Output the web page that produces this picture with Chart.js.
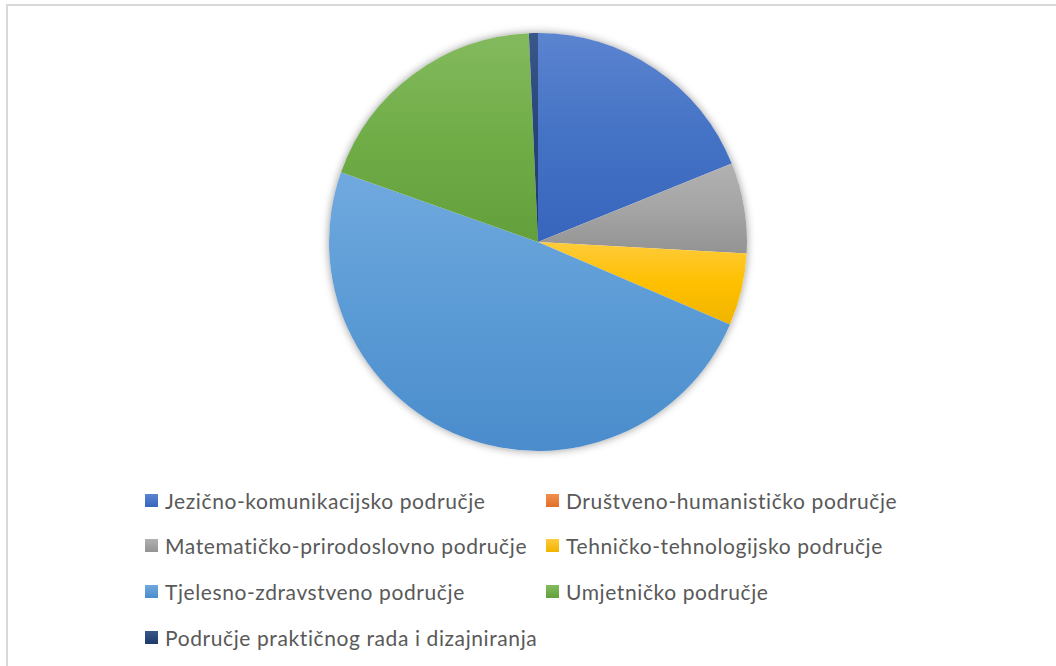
<!DOCTYPE html>
<html>
<head>
<meta charset="utf-8">
<script src="https://cdn.jsdelivr.net/npm/chart.js@4"></script>
<style>
  html, body { margin: 0; padding: 0; background: #fff; }
  body { width: 1056px; height: 666px; position: relative; overflow: hidden; }
  .frame {
    position: absolute; left: 6px; top: 4px; width: 1100px; height: 700px;
    border: 2px solid #d9d9d9; box-sizing: border-box;
  }
  .pie-box { position: absolute; left: 309px; top: 13px; width: 458px; height: 458px; }
  .legend-item {
    position: absolute; height: 24px; display: flex; align-items: center;
    font-family: Lato, sans-serif; font-size: 21px; color: #595959;
    letter-spacing: 0.6px; white-space: nowrap;
  }
  .legend-item span.box { width: 13px; height: 13px; margin-right: 7px; flex: none; }
</style>
</head>
<body>
<div class="frame"></div>
<div class="pie-box"><canvas id="pieChart"></canvas></div>
<div id="legend"></div>
<script>
const labels = [
  'Jezično-komunikacijsko područje',
  'Društveno-humanističko područje',
  'Matematičko-prirodoslovno područje',
  'Tehničko-tehnologijsko područje',
  'Tjelesno-zdravstveno područje',
  'Umjetničko područje',
  'Područje praktičnog rada i dizajniranja'
];
const values = [27, 0, 10, 8, 70, 27, 1];

const baseColors   = ['#4472C4', '#ED7D31', '#A5A5A5', '#FFC000', '#5B9BD5', '#70AD47', '#264478'];
const topColors    = ['#5b84d0', '#f28f4d', '#b1b1b1', '#ffcb3a', '#70a9df', '#83ba5e', '#3a5789'];
const bottomColors = ['#3765bd', '#e0702a', '#939393', '#f0b400', '#4a8ccc', '#63a03c', '#1e3a6c'];

// vertical gradient over each slice's own height
function sliceGradient(context) {
  const chart = context.chart;
  const area = chart.chartArea;
  const i = context.dataIndex;
  if (!area) return baseColors[i];
  const cx = (area.left + area.right) / 2;
  const cy = (area.top + area.bottom) / 2;
  const r = Math.min(area.width, area.height) / 2;
  const total = values.reduce((a, b) => a + b, 0);
  let start = -Math.PI / 2;
  for (let k = 0; k < i; k++) start += values[k] / total * 2 * Math.PI;
  const end = start + values[i] / total * 2 * Math.PI;
  const ys = [cy, cy + r * Math.sin(start), cy + r * Math.sin(end)];
  [-Math.PI / 2, Math.PI / 2, 3 * Math.PI / 2].forEach(a => {
    if (a >= start && a <= end) ys.push(cy + r * Math.sin(a));
  });
  const y0 = Math.min(...ys), y1 = Math.max(...ys);
  const g = chart.ctx.createLinearGradient(0, y0, 0, y1 > y0 ? y1 : y0 + 1);
  g.addColorStop(0, topColors[i]);
  g.addColorStop(0.5, baseColors[i]);
  g.addColorStop(1, bottomColors[i]);
  return g;
}

// soft shadow under the pie
const pieShadow = {
  id: 'pieShadow',
  beforeDatasetsDraw(chart) {
    const arc = chart.getDatasetMeta(0).data[0];
    if (!arc) return;
    const ctx = chart.ctx;
    ctx.save();
    ctx.shadowColor = 'rgba(0,0,0,0.4)';
    ctx.shadowBlur = 9;
    ctx.fillStyle = '#fff';
    ctx.beginPath();
    ctx.arc(arc.x, arc.y, arc.outerRadius, 0, 2 * Math.PI);
    ctx.fill();
    ctx.restore();
  }
};

new Chart(document.getElementById('pieChart'), {
  type: 'pie',
  data: {
    labels: labels,
    datasets: [{
      data: values,
      backgroundColor: sliceGradient,
      borderWidth: 0
    }]
  },
  options: {
    responsive: true,
    maintainAspectRatio: false,
    animation: false,
    layout: { padding: 20 },
    plugins: {
      legend: { display: false },
      tooltip: { enabled: false }
    }
  },
  plugins: [pieShadow]
});

// two-column legend below the pie
const legend = document.getElementById('legend');
labels.forEach((label, i) => {
  const item = document.createElement('div');
  item.className = 'legend-item';
  item.style.left = (145 + (i % 2) * 401) + 'px';
  item.style.top = (488 + Math.floor(i / 2) * 45.7) + 'px';
  const box = document.createElement('span');
  box.className = 'box';
  box.style.background = 'linear-gradient(' + topColors[i] + ', ' + bottomColors[i] + ')';
  const text = document.createElement('span');
  text.textContent = label;
  item.appendChild(box);
  item.appendChild(text);
  legend.appendChild(item);
});
</script>
</body>
</html>
